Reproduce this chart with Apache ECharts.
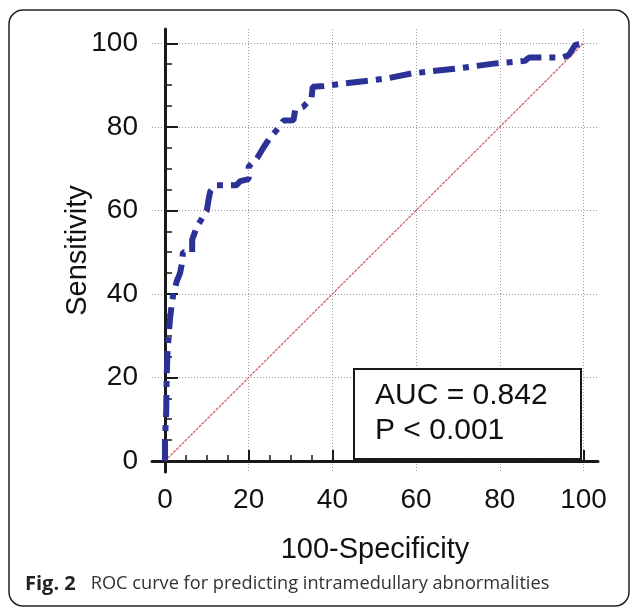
<!DOCTYPE html>
<html>
<head>
<meta charset="utf-8">
<script src="https://cdn.jsdelivr.net/npm/echarts@6/dist/echarts.min.js"></script>
<style>
html,body{margin:0;padding:0;background:#fff;}
#chart{width:632px;height:607px;}
</style>
</head>
<body>
<div id="chart"></div>
<script>
// ROC curve points: [100-Specificity, Sensitivity]
const rocX = [0, 0, 0.3, 0.4, 0.6, 0.9, 1.2, 1.6, 2.0, 2.8, 3.6, 4.0, 4.3, 6.5, 6.5, 7.6, 8.8, 10, 10.4, 10.8, 12, 17, 18, 20, 20, 22, 23.5, 25, 27, 28.3, 30.7, 31.1, 33, 35, 35.3, 38, 42, 53, 59, 70, 79, 84, 86, 87, 95, 96.5, 98, 100];
const rocY = [0, 5, 12, 20, 26, 30, 34, 37.5, 40, 43, 45, 47, 50, 50, 53, 56, 58, 60, 62.5, 64.5, 66, 66, 67, 67.5, 70.5, 72.5, 75, 77.3, 79.6, 81.5, 81.6, 84, 84.8, 86.8, 89.6, 89.8, 90.3, 91.6, 92.8, 94, 95.2, 95.6, 95.8, 96.6, 96.6, 97.2, 99.6, 100];
const refX = [0, 100];
const refY = [0, 100];
const majorTicks = [0, 20, 40, 60, 80, 100];
const minorTicks = [5, 10, 15, 25, 30, 35, 45, 50, 55, 65, 70, 75, 85, 90, 95];
const xName = '100-Specificity';
const yName = 'Sensitivity';
const statsText = ['AUC = 0.842', 'P < 0.001'];
const captionBold = 'Fig. 2';
const captionText = 'ROC curve for predicting intramedullary abnormalities';

const rocData = rocX.map((x, i) => [x, rocY[i]]);
const refData = refX.map((x, i) => [x, refY[i]]);

const FONT = 'Liberation Sans, Arial, sans-serif';
const xMin = -3.1, xMax = 103.46, yMin = -2.63, yMax = 103.43;

function mainAxis(pos, min, max, name, isX) {
  return {
    type: 'value', position: pos, min: min, max: max,
    name: name, nameLocation: 'middle', nameGap: isX ? 63 : 60,
    nameMoveOverlap: false,
    nameTextStyle: { fontFamily: FONT, fontSize: 29, color: '#111' },
    axisLine: { show: true, lineStyle: { color: '#1a1a1a', width: 3 } },
    axisTick: { show: true, inside: true, length: isX ? 11 : 13, customValues: majorTicks, lineStyle: { color: '#1a1a1a', width: 2 } },
    axisLabel: { show: true, customValues: majorTicks, margin: 14, fontFamily: FONT, fontSize: 28, color: '#111' },
    splitLine: { show: true, lineStyle: { color: '#9a9a9a', width: 1, type: [1, 2] } },
    minorTick: { show: false }
  };
}
function minorAxis(pos, min, max, isX) {
  return {
    type: 'value', position: pos, min: min, max: max,
    axisLine: { show: false },
    axisTick: { show: true, inside: true, length: isX ? 6 : 7, customValues: minorTicks, lineStyle: { color: '#1a1a1a', width: 1.5 } },
    axisLabel: { show: false },
    splitLine: { show: false }
  };
}

const chart = echarts.init(document.getElementById('chart'), null, { renderer: 'canvas' });
chart.setOption({
  animation: false,
  backgroundColor: '#fff',
  grid: { left: 152, top: 29, right: 34, bottom: 135, containLabel: false },
  xAxis: [mainAxis('bottom', xMin, xMax, xName, true), minorAxis('bottom', xMin, xMax, true)],
  yAxis: [mainAxis('left', yMin, yMax, yName, false), minorAxis('left', yMin, yMax, false)],
  title: {
    text: statsText.join('\n'),
    left: 354, top: 369,
    padding: [9, 34, 11, 21],
    borderColor: '#1a1a1a', borderWidth: 2, backgroundColor: '#fff',
    textStyle: { fontFamily: FONT, fontSize: 30, fontWeight: 'normal', color: '#111', lineHeight: 35 }
  },
  series: [
    {
      type: 'line', data: refData, symbol: 'none', z: 2,
      lineStyle: { color: '#cc5a5a', width: 1.2, type: [3, 1] }
    },
    {
      type: 'line', data: rocData, symbol: 'none', z: 3,
      lineStyle: { color: '#2b3196', width: 6, type: [22, 8, 6, 8], cap: 'butt' }
    }
  ],
  graphic: [
    {
      type: 'rect', shape: { x: 9, y: 10, width: 620, height: 596, r: 14 },
      style: { fill: 'none', stroke: '#222', lineWidth: 1.5 }, silent: true
    },
    {
      type: 'text', left: 25, top: 574,
      style: {
        text: '{b|' + captionBold + '}{s| }{n|' + captionText + '}',
        rich: {
          b: { fontFamily: 'Open Sans', fontWeight: 'bold', fontSize: 20, fill: '#222' },
          s: { fontFamily: 'Open Sans', fontSize: 18, width: 15 },
          n: { fontFamily: 'Open Sans', fontSize: 18.2, fill: '#333' }
        }
      }
    }
  ]
});
</script>
</body>
</html>
